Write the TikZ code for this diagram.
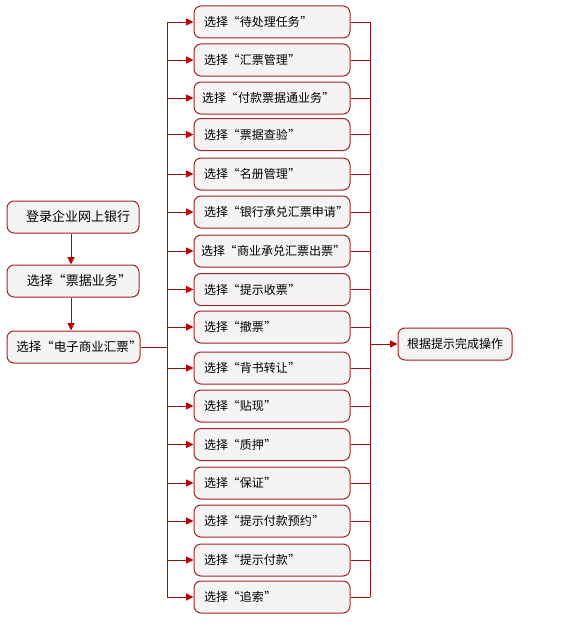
\documentclass[tikz,border=0pt]{standalone}
\usepackage{fontspec}
\setmainfont{Noto Sans CJK SC}
\usetikzlibrary{arrows.meta}
\newcommand\qopen{\makebox[1em][r]{“\hspace{0.5pt}}}
\newcommand\qclose{\makebox[1em][l]{\hspace{0.5pt}”}}
\definecolor{boxred}{HTML}{A52424}
\definecolor{linered}{HTML}{9A1212}
\definecolor{tipred}{HTML}{C00000}
\definecolor{boxfill}{HTML}{F5F4F4}
\tikzset{
  flowbox/.style={draw=boxred, line width=1pt, fill=boxfill, rounded corners=7pt,
    minimum height=32pt, inner sep=0pt, font=\fontsize{12}{14}\selectfont},
  leftbox/.style={flowbox, minimum width=132pt, text width=132pt, align=left,
    font=\fontsize{13}{15}\selectfont},
  optbox/.style={flowbox, minimum width=156pt, inner xsep=10pt, text width=136pt, align=left},
  endbox/.style={flowbox, minimum width=114pt},
  conn/.style={draw=linered, line width=0.9pt},
  arr/.style={conn, -{Triangle[length=7.5pt,width=7pt,fill=tipred,color=tipred]}}
}
\begin{document}
\begin{tikzpicture}[x=1pt,y=-1pt]
\useasboundingbox (0,0) rectangle (578,642);
\fill[white] (0,0) rectangle (578,642);
% left column
\node[leftbox] (c1) at (73,217) {\hspace*{19pt}登录企业网上银行};
\node[leftbox] (c2) at (73,281) {\hspace*{20pt}选择\qopen 票据业务\qclose};
\node[leftbox, minimum width=133pt, font=\fontsize{12.5}{15}\selectfont] (c3) at (73.5,347) {\hspace*{9pt}选择\qopen 电子商业汇票\qclose};
\coordinate (vA) at (71,0);
\draw[arr] (vA |- c1.south) -- (vA |- c2.north);
\draw[arr] (vA |- c2.south) -- (vA |- c3.north);
% option boxes
\node[optbox] (b1)  at (272,22)  {选择\qopen 待处理任务\qclose};
\node[optbox] (b2)  at (272,60)  {选择\qopen 汇票管理\qclose};
\node[optbox] (b3)  at (272,98)  {\hspace*{-2pt}选择\qopen 付款票据通业务\qclose};
\node[optbox] (b4)  at (272,134.5) {选择\qopen 票据查验\qclose};
\node[optbox] (b5)  at (272,174) {选择\qopen 名册管理\qclose};
\node[optbox] (b6)  at (272,212) {选择\qopen 银行承兑汇票申请\qclose};
\node[optbox] (b7)  at (272,251) {\hspace*{-3pt}选择\qopen 商业承兑汇票出票\qclose};
\node[optbox] (b8)  at (272,289.5) {选择\qopen 提示收票\qclose};
\node[optbox] (b9)  at (272,327) {选择\qopen 撤票\qclose};
\node[optbox] (b10) at (272,368) {选择\qopen 背书转让\qclose};
\node[optbox] (b11) at (272,406) {选择\qopen 贴现\qclose};
\node[optbox] (b12) at (272,444.5) {选择\qopen 质押\qclose};
\node[optbox] (b13) at (272,483) {选择\qopen 保证\qclose};
\node[optbox] (b14) at (272,521) {选择\qopen 提示付款预约\qclose};
\node[optbox] (b15) at (272,560) {选择\qopen 提示付款\qclose};
\node[optbox] (b16) at (272,597) {选择\qopen 追索\qclose};
% final
\node[endbox] (fin) at (455,344) {根据提示完成操作};
% buses
\coordinate (bL) at (167,0);
\coordinate (bR) at (370,0);
\draw[conn] (c3.east) -- (bL |- c3.east);
\draw[conn] (bL |- b1) -- (bL |- b16);
\foreach \i in {1,...,16}{
  \draw[arr] (bL |- b\i) -- (b\i.west);
  \draw[conn] (b\i.east) -- (bR |- b\i.east);
}
\draw[conn] (bR |- b1) -- (bR |- b16);
\draw[arr] (bR |- fin.west) -- (fin.west);
\end{tikzpicture}
\end{document}
